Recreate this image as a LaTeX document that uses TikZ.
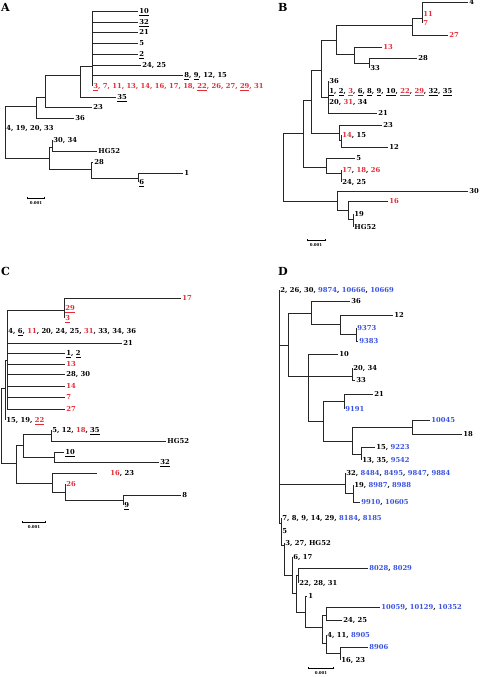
\documentclass[tikz,border=0pt]{standalone}
\usepackage{fontspec}
\setmainfont{DejaVu Serif}
\usepackage{xcolor}
\usepackage{tikz}
\usetikzlibrary{arrows.meta}

\definecolor{tred}{RGB}{226,44,56}
\definecolor{tblue}{RGB}{56,82,226}
\newcommand{\redid}[1]{\textcolor{tred}{#1}}
\newcommand{\blueid}[1]{\textcolor{tblue}{#1}}
\newcommand{\ulid}[1]{\underline{#1}}

\begin{document}
\begin{tikzpicture}[
        x=0.03cm, y=-0.03cm,
        branch/.style = {draw=black!85, line width=0.65pt},
        leaf/.style = {anchor=west, inner xsep=1pt, inner ysep=0pt, text height=4.4pt, text depth=0pt, font=\fontsize{5.8}{7}\selectfont\bfseries},
        panel/.style = {anchor=west, inner sep=0pt, font=\fontsize{9.5}{10}\selectfont\bfseries},
        scalebar/.style = {{Bar[width=2.5pt]}-{Bar[width=2.5pt]}, line width=0.6pt},
        scalelab/.style = {inner sep=0pt, font=\fontsize{3.4}{3.5}\selectfont\bfseries}
      ]
      \useasboundingbox (0,0) rectangle (480,677);

      % ================= A =================
      \node[panel] (labA) at (1,7) {A};
      \coordinate (aR) at (5,130);
      \coordinate (a36n) at (36,106);
      \coordinate (a45) at (45,97);
      \coordinate (a80) at (80,75);
      \coordinate (a92) at (92,66);
      \coordinate (aL) at (49,158);
      \coordinate (a52) at (52,147);
      \coordinate (a91) at (91,169);
      \coordinate (a138) at (138,178);

      \node[leaf] (lA10) at (138,11) {\ulid{10}};
      \node[leaf] (lA32) at (138,22) {\ulid{32}};
      \node[leaf] (lA21) at (138,32) {21};
      \node[leaf] (lA5) at (138,43) {5};
      \node[leaf] (lA2) at (138,54) {\ulid{2}};
      \node[leaf] (lA2425) at (141,65) {24, 25};
      \node[leaf] (lA8) at (183,75) {\ulid{8}, \ulid{9}, 12, 15};
      \node[leaf] (lA3) at (92,86) {\redid{\ulid{3}, 7, 11, 13, 14, 16, 17, 18, \ulid{22}, 26, 27, \ulid{29}, 31}};
      \node[leaf] (lA35) at (116,97) {\ulid{35}};
      \node[leaf] (lA23) at (92,107) {23};
      \node[leaf] (lA36) at (74,118) {36};
      \node[leaf] (lA4) at (5,128) {4, 19, 20, 33};
      \node[leaf] (lA30) at (52,140) {30, 34};
      \node[leaf] (lAHG) at (97,151) {HG52};
      \node[leaf] (lA28) at (93,162) {28};
      \node[leaf] (lA1) at (183,173) {1};
      \node[leaf] (lA6) at (138,182) {\ulid{6}};

      \draw[branch] (aR) |- (a36n) (aR) |- (lA4.west) (aR) |- (aL);
      \draw[branch] (a36n) |- (a45) (a36n) |- (lA36.west);
      \draw[branch] (a45) |- (a80) (a45) |- (lA23.west);
      \draw[branch] (a80) |- (a92) (a80) |- (lA35.west);
      \draw[branch] (a92) |- (lA10.west) (a92) |- (lA32.west) (a92) |- (lA21.west) (a92) |- (lA5.west)
                    (a92) |- (lA2.west) (a92) |- (lA2425.west) (a92) |- (lA8.west) (a92) |- (lA3.west);
      \draw[branch] (aL) |- (a52) (aL) |- (a91);
      \draw[branch] (a52) |- (lA30.west) (a52) |- (lAHG.west);
      \draw[branch] (a91) |- (lA28.west) (a91) |- (a138);
      \draw[branch] (a138) |- (lA1.west) (a138) |- (lA6.west);

      \coordinate (asL) at (27,198);
      \coordinate (asR) at (45,198);
      \draw[scalebar] (asL) -- (asR);
      \node[scalelab] (asT) at (36,203) {0.001};

      % ================= B =================
      \node[panel] (labB) at (278,7) {B};
      \coordinate (bR) at (283,167);
      \coordinate (b303) at (303,133);
      \coordinate (b311) at (311,100);
      \coordinate (b321) at (321,70);
      \coordinate (b336) at (336,40);
      \coordinate (b412) at (412,25);
      \coordinate (b422) at (422,18);
      \coordinate (b354) at (354,54);
      \coordinate (b369) at (369,63);
      \coordinate (b328) at (328,97);
      \coordinate (b339) at (339,133);
      \coordinate (b341) at (341,140);
      \coordinate (b326) at (326,167);
      \coordinate (b341b) at (341,173);
      \coordinate (b337) at (337,201);
      \coordinate (b348) at (348,210);
      \coordinate (b353) at (353,219);

      \node[leaf] (lB4) at (468,2) {4};
      \node[leaf] (lB11) at (422,14) {\redid{11}};
      \node[leaf] (lB7) at (422,23) {\redid{7}};
      \node[leaf] (lB27) at (448,35) {\redid{27}};
      \node[leaf] (lB13) at (382,47) {\redid{13}};
      \node[leaf] (lB28) at (417,58) {28};
      \node[leaf] (lB33) at (369,68) {33};
      \node[leaf] (lB36) at (328,81) {36};
      \node[leaf] (lB1) at (328,91) {\ulid{1}, \ulid{2}, \redid{\ulid{3}}, \ulid{6}, \ulid{8}, \ulid{9}, \ulid{10}, \redid{\ulid{22}}, \redid{\ulid{29}}, \ulid{32}, \ulid{35}};
      \node[leaf] (lB20) at (328,102) {20, \redid{31}, 34};
      \node[leaf] (lB21) at (377,113) {21};
      \node[leaf] (lB23) at (382,125) {23};
      \node[leaf] (lB14) at (341,135) {\redid{14}, 15};
      \node[leaf] (lB12) at (388,147) {12};
      \node[leaf] (lB5) at (355,158) {5};
      \node[leaf] (lB17) at (341,170) {\redid{17}, \redid{18}, \redid{26}};
      \node[leaf] (lB24) at (341,182) {24, 25};
      \node[leaf] (lB30) at (468,191) {30};
      \node[leaf] (lB16) at (388,201) {\redid{16}};
      \node[leaf] (lB19) at (353,214) {19};
      \node[leaf] (lBHG) at (353,227) {HG52};

      \draw[branch] (bR) |- (b303) (bR) |- (b337);
      \draw[branch] (b303) |- (b311) (b303) |- (b326);
      \draw[branch] (b311) |- (b321) (b311) |- (b339);
      \draw[branch] (b321) |- (b336) (b321) |- (b328);
      \draw[branch] (b336) |- (b412) (b336) |- (b354);
      \draw[branch] (b412) |- (b422) (b412) |- (lB27.west);
      \draw[branch] (b422) |- (lB4.west) (b422) |- (lB11.west) (b422) |- (lB7.west);
      \draw[branch] (b354) |- (lB13.west) (b354) |- (b369);
      \draw[branch] (b369) |- (lB28.west) (b369) |- (lB33.west);
      \draw[branch] (b328) |- (lB36.west) (b328) |- (lB1.west) (b328) |- (lB20.west) (b328) |- (lB21.west);
      \draw[branch] (b339) |- (lB23.west) (b339) |- (b341);
      \draw[branch] (b341) |- (lB14.west) (b341) |- (lB12.west);
      \draw[branch] (b326) |- (lB5.west) (b326) |- (b341b);
      \draw[branch] (b341b) |- (lB17.west) (b341b) |- (lB24.west);
      \draw[branch] (b337) |- (lB30.west) (b337) |- (b348);
      \draw[branch] (b348) |- (lB16.west) (b348) |- (b353);
      \draw[branch] (b353) |- (lB19.west) (b353) |- (lBHG.west);

      \coordinate (bsL) at (307,240);
      \coordinate (bsR) at (326,240);
      \draw[scalebar] (bsL) -- (bsR);
      \node[scalelab] (bsT) at (316,245) {0.001};

      % ================= C =================
      \node[panel] (labC) at (1,271) {C};
      \coordinate (cR) at (1,425);
      \coordinate (c5) at (5,388);
      \coordinate (c7) at (7,360);
      \coordinate (c64) at (64,310);
      \coordinate (c16) at (16,463);
      \coordinate (c23) at (23,445);
      \coordinate (c51) at (51,434);
      \coordinate (c54) at (54,457);
      \coordinate (c52) at (52,483);
      \coordinate (c65) at (65,492);
      \coordinate (c123) at (123,500);
      \coordinate (cE16) at (97,473);

      \node[leaf] (lC17) at (181,298) {\redid{17}};
      \node[leaf] (lC29) at (64,308) {\redid{\ulid{29}}};
      \node[leaf] (lC3) at (64,318) {\redid{\ulid{3}}};
      \node[leaf] (lC4) at (7,331) {4, \ulid{6}, \redid{11}, 20, 24, 25, \redid{31}, 33, 34, 36};
      \node[leaf] (lC21) at (122,343) {21};
      \node[leaf] (lC1) at (65,353) {\ulid{1}, \ulid{2}};
      \node[leaf] (lC13) at (65,364) {\redid{13}};
      \node[leaf] (lC28) at (65,374) {28, 30};
      \node[leaf] (lC14) at (65,386) {\redid{14}};
      \node[leaf] (lC7) at (65,397) {\redid{7}};
      \node[leaf] (lC27) at (65,409) {\redid{27}};
      \node[leaf] (lC15) at (5,420) {15, 19, \redid{\ulid{22}}};
      \node[leaf] (lC5) at (51,430) {5, 12, \redid{18}, \ulid{35}};
      \node[leaf] (lCHG) at (166,441) {HG52};
      \node[leaf] (lC10) at (64,452) {\ulid{10}};
      \node[leaf] (lC32) at (159,462) {\ulid{32}};
      \node[leaf] (lC16) at (109,473) {\redid{16}, 23};
      \node[leaf] (lC26) at (65,484) {\redid{26}};
      \node[leaf] (lC8) at (181,495) {8};
      \node[leaf] (lC9) at (123,505) {\ulid{9}};

      \draw[branch] (cR) |- (c5) (cR) |- (c16);
      \draw[branch] (c5) |- (c7) (c5) |- (lC15.west);
      \draw[branch] (c7) |- (c64) (c7) |- (lC4.west) (c7) |- (lC21.west) (c7) |- (lC1.west) (c7) |- (lC13.west)
                    (c7) |- (lC28.west) (c7) |- (lC14.west) (c7) |- (lC7.west) (c7) |- (lC27.west);
      \draw[branch] (c64) |- (lC17.west) (c64) |- (lC29.west) (c64) |- (lC3.west);
      \draw[branch] (c16) |- (c23) (c16) |- (c52);
      \draw[branch] (c23) |- (c51) (c23) |- (c54);
      \draw[branch] (c51) |- (lC5.west) (c51) |- (lCHG.west);
      \draw[branch] (c54) |- (lC10.west) (c54) |- (lC32.west);
      \draw[branch] (c52) |- (cE16) (c52) |- (c65);
      \draw[branch] (c65) |- (lC26.west) (c65) |- (c123);
      \draw[branch] (c123) |- (lC8.west) (c123) |- (lC9.west);

      \coordinate (csL) at (22,522);
      \coordinate (csR) at (46,522);
      \draw[scalebar] (csL) -- (csR);
      \node[scalelab] (csT) at (34,527) {0.001};

      % ================= D =================
      \node[panel] (labD) at (278,271) {D};
      \coordinate (dR) at (279,400);
      \coordinate (d288) at (288,345);
      \coordinate (d311) at (311,313);
      \coordinate (d340) at (340,324);
      \coordinate (d356) at (356,334);
      \coordinate (d308) at (308,376);
      \coordinate (d352) at (352,376);
      \coordinate (d323) at (323,421);
      \coordinate (d344) at (344,401);
      \coordinate (d352b) at (352,441);
      \coordinate (d412) at (412,427);
      \coordinate (d361) at (361,454);
      \coordinate (d345) at (345,484);
      \coordinate (d353) at (353,493);
      \coordinate (d281) at (281,523);
      \coordinate (d284) at (284,545);
      \coordinate (d292) at (292,575);
      \coordinate (d296) at (296,593);
      \coordinate (d298) at (298,575);
      \coordinate (d305) at (305,612);
      \coordinate (d322) at (322,627);
      \coordinate (d326) at (326,615);
      \coordinate (d326b) at (326,643);
      \coordinate (d340b) at (340,653);

      \node[leaf] (lD2) at (279,290) {2, 26, 30, \blueid{9874}, \blueid{10666}, \blueid{10669}};
      \node[leaf] (lD36) at (350,301) {36};
      \node[leaf] (lD12) at (393,315) {12};
      \node[leaf] (lD9373) at (356,328) {\blueid{9373}};
      \node[leaf] (lD9383) at (358,341) {\blueid{9383}};
      \node[leaf] (lD10) at (338,354) {10};
      \node[leaf] (lD20) at (352,368) {20, 34};
      \node[leaf] (lD33) at (355,380) {33};
      \node[leaf] (lD21) at (373,394) {21};
      \node[leaf] (lD9191) at (344,409) {\blueid{9191}};
      \node[leaf] (lD10045) at (430,420) {\blueid{10045}};
      \node[leaf] (lD18) at (462,434) {18};
      \node[leaf] (lD15) at (375,447) {15, \blueid{9223}};
      \node[leaf] (lD13) at (361,460) {13, 35, \blueid{9542}};
      \node[leaf] (lD32) at (345,473) {32, \blueid{8484}, \blueid{8495}, \blueid{9847}, \blueid{9884}};
      \node[leaf] (lD19) at (353,485) {19, \blueid{8987}, \blueid{8988}};
      \node[leaf] (lD9910) at (360,502) {\blueid{9910}, \blueid{10605}};
      \node[leaf] (lD7) at (281,518) {7, 8, 9, 14, 29, \blueid{8184}, \blueid{8185}};
      \node[leaf] (lD5) at (281,531) {5};
      \node[leaf] (lD3) at (284,543) {3, 27, HG52};
      \node[leaf] (lD6) at (292,557) {6, 17};
      \node[leaf] (lD8028) at (368,568) {\blueid{8028}, \blueid{8029}};
      \node[leaf] (lD22) at (298,583) {22, 28, 31};
      \node[leaf] (lD1) at (307,596) {1};
      \node[leaf] (lD10059) at (380,607) {\blueid{10059}, \blueid{10129}, \blueid{10352}};
      \node[leaf] (lD24) at (342,620) {24, 25};
      \node[leaf] (lD4) at (326,635) {4, 11, \blueid{8905}};
      \node[leaf] (lD8906) at (368,647) {\blueid{8906}};
      \node[leaf] (lD16) at (340,660) {16, 23};

      \draw[branch] (dR) |- (lD2.west) (dR) |- (d288) (dR) |- (d345) (dR) |- (d281);
      \draw[branch] (d288) |- (d311) (d288) |- (d308);
      \draw[branch] (d311) |- (lD36.west) (d311) |- (d340);
      \draw[branch] (d340) |- (lD12.west) (d340) |- (d356);
      \draw[branch] (d356) |- (lD9373.west) (d356) |- (lD9383.west);
      \draw[branch] (d308) |- (lD10.west) (d308) |- (d352) (d308) |- (d323);
      \draw[branch] (d352) |- (lD20.west) (d352) |- (lD33.west);
      \draw[branch] (d323) |- (d344) (d323) |- (d352b);
      \draw[branch] (d344) |- (lD21.west) (d344) |- (lD9191.west);
      \draw[branch] (d352b) |- (d412) (d352b) |- (d361);
      \draw[branch] (d412) |- (lD10045.west) (d412) |- (lD18.west);
      \draw[branch] (d361) |- (lD15.west) (d361) |- (lD13.west);
      \draw[branch] (d345) |- (lD32.west) (d345) |- (d353);
      \draw[branch] (d353) |- (lD19.west) (d353) |- (lD9910.west);
      \draw[branch] (d281) |- (lD7.west) (d281) |- (lD5.west) (d281) |- (d284);
      \draw[branch] (d284) |- (lD3.west) (d284) |- (d292);
      \draw[branch] (d292) |- (lD6.west) (d292) |- (d296);
      \draw[branch] (d296) |- (d298) (d296) |- (d305);
      \draw[branch] (d298) |- (lD8028.west) (d298) |- (lD22.west);
      \draw[branch] (d305) |- (lD1.west) (d305) |- (d322);
      \draw[branch] (d322) |- (d326) (d322) |- (d326b);
      \draw[branch] (d326) |- (lD10059.west) (d326) |- (lD24.west);
      \draw[branch] (d326b) |- (lD4.west) (d326b) |- (d340b);
      \draw[branch] (d340b) |- (lD8906.west) (d340b) |- (lD16.west);

      \coordinate (dsL) at (308,668);
      \coordinate (dsR) at (334,668);
      \draw[scalebar] (dsL) -- (dsR);
      \node[scalelab] (dsT) at (321,673) {0.001};

    \end{tikzpicture}
\end{document}
